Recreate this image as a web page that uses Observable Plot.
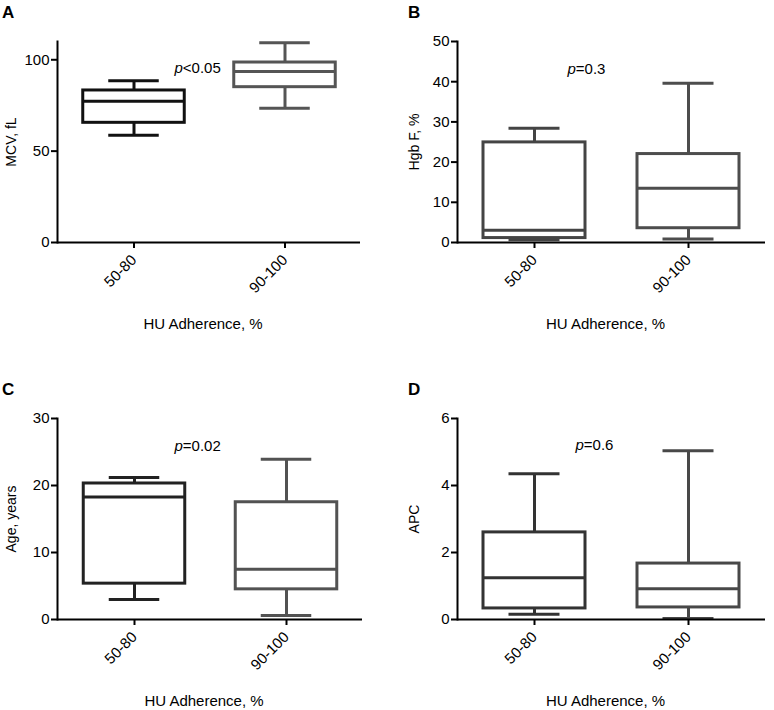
<!DOCTYPE html>
<html>
<head>
<meta charset="utf-8">
<script src="https://cdn.jsdelivr.net/npm/d3@7"></script>
<script src="https://cdn.jsdelivr.net/npm/@observablehq/plot@0.6"></script>
<style>
  html, body { margin: 0; padding: 0; background: #fff; }
  #wrap { position: relative; width: 774px; height: 710px; overflow: hidden; background: #fff;
          font-family: "Liberation Sans", Arial, Helvetica, sans-serif; }
  .panel { position: absolute; }
  .letter { position: absolute; font-weight: bold; font-size: 17px; line-height: 1; color: #000; }
</style>
</head>
<body>
<div id="wrap"></div>
<script>
// ---- data ----
const categories = ["50-80", "90-100"];
const panelLetters = ["A", "B", "C", "D"];
const yLabels = ["MCV, fL", "Hgb F, %", "Age, years", "APC"];
const xLabel = "HU Adherence, %";
const yMax = [110, 50, 30, 6];
const yTicks = [[0, 50, 100], [0, 10, 20, 30, 40, 50], [0, 10, 20, 30], [0, 2, 4, 6]];
const pSigns = ["<0.05", "=0.3", "=0.02", "=0.6"];
const pY = [95.2, 43.2, 25.9, 5.19];

// MCV, fL
const mcvMin = [58.7, 73.5];
const mcvQ1 = [65.5, 85.0];
const mcvMedian = [77.3, 93.6];
const mcvQ3 = [83.2, 98.5];
const mcvMax = [88.5, 109.3];
// Hgb F, %
const hgbMin = [0.7, 0.9];
const hgbQ1 = [1.1, 3.55];
const hgbMedian = [3.05, 13.5];
const hgbQ3 = [24.9, 22.0];
const hgbMax = [28.4, 39.6];
// Age, years
const ageMin = [3.0, 0.6];
const ageQ1 = [5.35, 4.5];
const ageMedian = [18.3, 7.5];
const ageQ3 = [20.3, 17.5];
const ageMax = [21.2, 23.9];
// APC
const apcMin = [0.16, 0.03];
const apcQ1 = [0.33, 0.36];
const apcMedian = [1.25, 0.92];
const apcQ3 = [2.6, 1.67];
const apcMax = [4.35, 5.04];

const series = [
  [mcvMin, mcvQ1, mcvMedian, mcvQ3, mcvMax],
  [hgbMin, hgbQ1, hgbMedian, hgbQ3, hgbMax],
  [ageMin, ageQ1, ageMedian, ageQ3, ageMax],
  [apcMin, apcQ1, apcMedian, apcQ3, apcMax]
];

// ---- styles / layout ----
const boxColors = [["#111111", "#555555"], ["#444444", "#4d4d4d"], ["#222222", "#525252"], ["#333333", "#484848"]];
const layout = [
  {left: 0,   top: 0,   ml: 57, mr: 27, pdx: 117, ylx: 51},
  {left: 387, top: 0,   ml: 70, mr: 9,  pdx: 110, ylx: 48},
  {left: 0,   top: 377, ml: 57, mr: 25, pdx: 117, ylx: 51},
  {left: 387, top: 377, ml: 70, mr: 9,  pdx: 118, ylx: 48}
];
const FONT = '"Liberation Sans", Arial, Helvetica, sans-serif';
const W = 387, H = 333, MT = 41, MB = 91;

const wrap = document.getElementById("wrap");

series.forEach((s, i) => {
  const [mn, q1, md, q3, mx] = s;
  const rows = categories.map((c, j) => ({
    cat: c, min: mn[j], q1: q1[j], median: md[j], q3: q3[j], max: mx[j], color: boxColors[i][j]
  }));
  const L = layout[i];
  const bw = (W - L.ml - L.mr) / 2; // band width
  const boxInset = (bw - 102) / 2;
  const capInset = (bw - 51) / 2;

  const chart = Plot.plot({
    width: W, height: H,
    marginLeft: L.ml, marginRight: L.mr, marginTop: MT, marginBottom: MB,
    style: {fontFamily: FONT, fontSize: "15px", color: "#000", background: "transparent", overflow: "visible"},
    x: {type: "band", domain: categories, padding: 0},
    y: {domain: [0, yMax[i]]},
    color: {type: "identity"},
    marks: [
      Plot.ruleX(rows, {x: "cat", y1: "min", y2: "max", stroke: "color", strokeWidth: 3}),
      Plot.tickY(rows, {x: "cat", y: "min", stroke: "color", strokeWidth: 3, insetLeft: capInset, insetRight: capInset}),
      Plot.tickY(rows, {x: "cat", y: "max", stroke: "color", strokeWidth: 3, insetLeft: capInset, insetRight: capInset}),
      Plot.rectY(rows, {x: "cat", y1: "q1", y2: "q3", fill: "white", stroke: "color", strokeWidth: 3, insetLeft: boxInset, insetRight: boxInset}),
      Plot.tickY(rows, {x: "cat", y: "median", stroke: "color", strokeWidth: 3, insetLeft: boxInset, insetRight: boxInset}),
      Plot.ruleY([0], {stroke: "#000", strokeWidth: 2}),
      Plot.frame({anchor: "left", stroke: "#000", strokeWidth: 2}),
      Plot.axisY({ticks: yTicks[i], tickSize: 6, tickPadding: 2, strokeWidth: 2, tickFormat: d => String(d),
                  label: null, fontSize: 15}),
      Plot.axisX({tickRotate: -45, tickSize: 6, tickPadding: 9, strokeWidth: 2, label: null, fontSize: 15}),
      Plot.text([yLabels[i]], {frameAnchor: "left", rotate: -90, dx: -L.ylx, textAnchor: "middle",
                  lineAnchor: "top", fontSize: 14}),
      Plot.text([xLabel], {frameAnchor: "bottom", dx: -6, dy: 76, textAnchor: "middle",
                  lineAnchor: "top", fontSize: 15}),
      Plot.text([pY[i]], {y: d => d, frameAnchor: "left", dx: L.pdx, text: () => "p", fontStyle: "italic",
                  textAnchor: "start", lineAnchor: "middle", fontSize: 15}),
      Plot.text([pY[i]], {y: d => d, frameAnchor: "left", dx: L.pdx + 8.3, text: () => pSigns[i],
                  textAnchor: "start", lineAnchor: "middle", fontSize: 15})
    ]
  });
  const div = document.createElement("div");
  div.className = "panel";
  div.style.left = L.left + "px";
  div.style.top = L.top + "px";
  div.appendChild(chart);
  wrap.appendChild(div);

  const letter = document.createElement("div");
  letter.className = "letter";
  letter.textContent = panelLetters[i];
  letter.style.left = (L.left + (i % 2 ? 21 : 2)) + "px";
  letter.style.top = (L.top + 4) + "px";
  wrap.appendChild(letter);
});
</script>
</body>
</html>
